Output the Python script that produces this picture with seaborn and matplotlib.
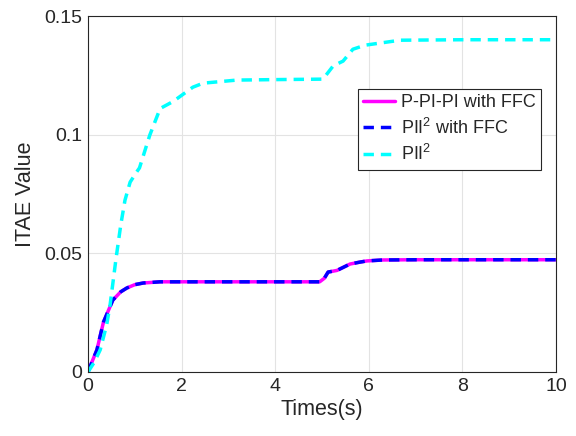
import matplotlib
matplotlib.use('Agg')
import matplotlib.pyplot as plt
import seaborn as sns
import pandas as pd

# ITAE curves
t_ffc = [0, 0.1, 0.19, 0.33, 0.53, 0.7, 0.83, 1.0, 1.18, 1.54, 2.0, 3.0, 4.0, 4.95, 5.05, 5.13, 5.32, 5.6, 5.81, 5.96, 6.3, 7.0, 8.0, 9.0, 10.0]
itae_ffc = [0, 0.005, 0.0093, 0.021, 0.0303, 0.0338, 0.0354, 0.0368, 0.0375, 0.0380, 0.0380, 0.0380, 0.0380, 0.0380, 0.0395, 0.0421, 0.0428, 0.0455, 0.0463, 0.0468, 0.0472, 0.0473, 0.0473, 0.0473, 0.0473]

t_pii = [0, 0.13, 0.26, 0.4, 0.47, 0.6, 0.7, 0.79, 0.9, 1.04, 1.1, 1.32, 1.54, 1.82, 2.24, 2.46, 3.18, 4.0, 5.02, 5.24, 5.45, 5.66, 5.92, 6.67, 8.0, 10.0]
itae_pii = [0, 0.004, 0.0093, 0.02, 0.028, 0.048, 0.062, 0.0724, 0.080, 0.0843, 0.086, 0.0998, 0.111, 0.114, 0.120, 0.1217, 0.123, 0.1232, 0.1234, 0.129, 0.131, 0.136, 0.1377, 0.1398, 0.140, 0.140]

labels = ['P-PI-PI with FFC', r'PII$^2$ with FFC', r'PII$^2$']
colors = ['#FF00FF', '#0000FF', '#00FFFF']

df = pd.concat([
    pd.DataFrame({'t': t_ffc, 'v': itae_ffc, 'ctrl': labels[0]}),
    pd.DataFrame({'t': t_ffc, 'v': itae_ffc, 'ctrl': labels[1]}),
    pd.DataFrame({'t': t_pii, 'v': itae_pii, 'ctrl': labels[2]}),
])

sns.set_theme(style="whitegrid")
plt.rcParams['font.family'] = ['Liberation Sans', 'DejaVu Sans']
plt.rcParams['mathtext.fontset'] = 'custom'
plt.rcParams['mathtext.rm'] = 'Liberation Sans'

fig = plt.figure(figsize=(5.76, 4.36), dpi=100)
ax = fig.add_axes([0.1528, 0.1468, 0.8125, 0.8165])

sns.lineplot(data=df, x='t', y='v', hue='ctrl', style='ctrl', hue_order=labels, style_order=labels,
             palette=colors, dashes=[(None, None), (3, 2), (3, 2)], linewidth=2.5, ax=ax,
             estimator=None, sort=False)

ax.set_xlim(0, 10)
ax.set_ylim(0, 0.15)
ax.set_xticks([0, 2, 4, 6, 8, 10])
ax.set_yticks([0, 0.05, 0.1, 0.15])
ax.set_yticklabels(['0', '0.05', '0.1', '0.15'])
ax.set_xlabel('Times(s)', fontsize=15.5, color='#262626', labelpad=3)
ax.set_ylabel('ITAE Value', fontsize=15.5, color='#262626', labelpad=6)
ax.tick_params(labelsize=14, length=4, direction='in', color='#262626', colors='#262626', pad=4)
ax.set_facecolor('white')
ax.grid(True, color='#E3E3E3', linewidth=0.8)
for s in ax.spines.values():
    s.set_color('#262626')
    s.set_linewidth(0.8)

leg = ax.legend(loc='upper right', bbox_to_anchor=(0.968, 0.795), fontsize=13, frameon=True,
                fancybox=False, framealpha=1, edgecolor='#262626', handlelength=1.8,
                borderpad=0.3, labelspacing=0.35, handletextpad=0.3, borderaxespad=0)
leg.get_frame().set_linewidth(0.8)
for line in leg.get_lines():
    line.set_linewidth(2.5)

fig.savefig('out.png', dpi=100, facecolor='white')
